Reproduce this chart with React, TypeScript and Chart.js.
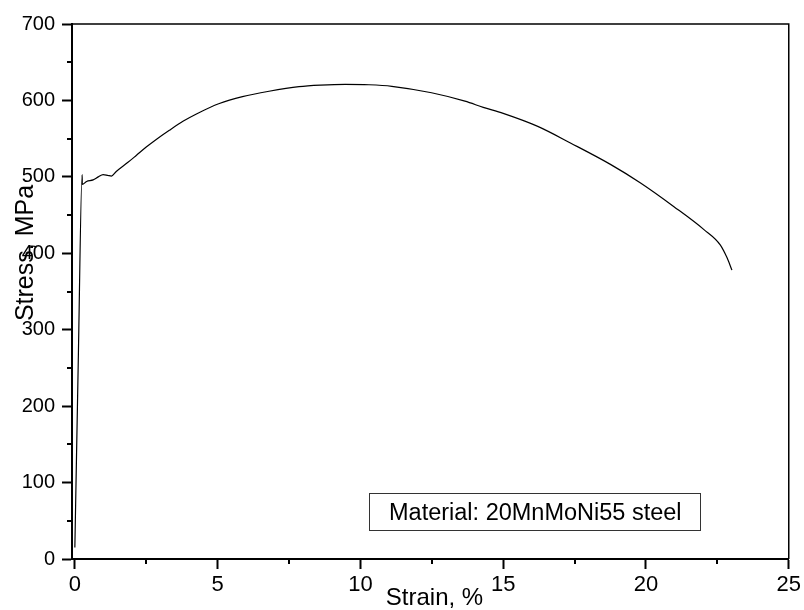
import React, { useEffect, useRef } from "react";
import { Chart, registerables } from "chart.js";

Chart.register(...registerables);

const strain = [0.0, 0.12, 0.255, 0.26, 0.41, 0.64, 0.82, 0.99, 1.15, 1.28, 1.45, 1.86, 2.15, 2.5, 2.85, 3.31, 3.8, 4.24, 5.06, 5.87, 6.8, 7.85, 8.6, 9.47, 10.3, 11.1, 12.49, 13.66, 14.3, 15.0, 16.21, 17.37, 18.77, 19.81, 20.98, 22.03, 22.6, 22.84, 23.01];
const stress = [15, 260, 503, 490, 494, 496, 500, 503, 502, 501, 507, 519, 528, 539, 549, 561, 573, 582, 596, 605, 612, 618, 620, 621, 620.5, 618.5, 610, 599, 591, 583, 566, 544, 516, 492, 461, 431, 411, 394, 378];

const xMajorTicks = [0, 5, 10, 15, 20, 25];
const xMinorTicks = [2.5, 7.5, 12.5, 17.5, 22.5];
const yMajorTicks = [0, 100, 200, 300, 400, 500, 600, 700];
const yMinorTicks = [50, 150, 250, 350, 450, 550, 650];

const xTitle = "Strain, %";
const yTitle = "Stress, MPa";
const noteText = "Material: 20MnMoNi55 steel";

const FONT = "'Liberation Sans', Arial, Helvetica, sans-serif";

const framePlugin = {
  id: "frame",
  afterDraw(chart: any) {
    const { ctx, chartArea } = chart;
    const xs = chart.scales.x;
    const ys = chart.scales.y;
    ctx.save();
    ctx.strokeStyle = "#000";
    ctx.lineWidth = 1.5;
    ctx.beginPath();
    ctx.moveTo(chartArea.left, chartArea.top);
    ctx.lineTo(chartArea.right, chartArea.top);
    ctx.lineTo(chartArea.right, chartArea.bottom);
    ctx.stroke();
    ctx.lineWidth = 2;
    ctx.beginPath();
    xMinorTicks.forEach((v) => {
      const px = Math.round(xs.getPixelForValue(v));
      ctx.moveTo(px, chartArea.bottom);
      ctx.lineTo(px, chartArea.bottom + 5);
    });
    yMinorTicks.forEach((v) => {
      const py = Math.round(ys.getPixelForValue(v));
      ctx.moveTo(chartArea.left, py);
      ctx.lineTo(chartArea.left - 5, py);
    });
    ctx.stroke();
    ctx.fillStyle = "#000";
    ctx.font = `24px ${FONT}`;
    ctx.textAlign = "center";
    ctx.textBaseline = "alphabetic";
    ctx.fillText(xTitle, 434.5, 605);
    ctx.save();
    ctx.translate(33, 253);
    ctx.rotate(-Math.PI / 2);
    ctx.font = `25px ${FONT}`;
    ctx.fillText(yTitle, 0, 0);
    ctx.restore();
    ctx.lineWidth = 1;
    ctx.strokeStyle = "#333";
    ctx.strokeRect(369.5, 493.5, 331, 37);
    ctx.font = `23.5px ${FONT}`;
    ctx.textAlign = "left";
    ctx.fillText(noteText, 389, 520);
    ctx.restore();
  },
};

export default function App() {
  const ref = useRef<HTMLCanvasElement | null>(null);
  useEffect(() => {
    if (!ref.current) return;
    const data = strain.map((x, i) => ({ x, y: stress[i] }));
    const chart = new Chart(ref.current, {
      type: "line",
      data: {
        datasets: [
          {
            data,
            borderColor: "#000",
            borderWidth: 1.2,
            pointRadius: 0,
            cubicInterpolationMode: "monotone",
            fill: false,
          },
        ],
      },
      options: {
        responsive: false,
        devicePixelRatio: 1,
        animation: false,
        layout: { padding: { left: 0, top: 24, right: 12, bottom: 0 } },
        plugins: { legend: { display: false }, tooltip: { enabled: false }, title: { display: false } },
        scales: {
          x: {
            type: "linear",
            min: -0.1,
            max: 25,
            afterBuildTicks: (s: any) => {
              s.ticks = xMajorTicks.map((v) => ({ value: v }));
            },
            afterFit: (s: any) => {
              s.height = 51;
            },
            grid: { display: true, drawOnChartArea: false, drawTicks: true, tickLength: 10, tickWidth: 2, tickColor: "#000" },
            border: { display: true, color: "#000", width: 2 },
            ticks: { color: "#000", font: { size: 22, family: FONT }, padding: 3, maxRotation: 0 },
          },
          y: {
            type: "linear",
            min: 0,
            max: 700,
            afterBuildTicks: (s: any) => {
              s.ticks = yMajorTicks.map((v) => ({ value: v }));
            },
            afterFit: (s: any) => {
              s.width = 72;
            },
            grid: { display: true, drawOnChartArea: false, drawTicks: true, tickLength: 10, tickWidth: 2, tickColor: "#000" },
            border: { display: true, color: "#000", width: 2 },
            ticks: { color: "#000", font: { size: 20, family: FONT }, padding: 7 },
          },
        },
      },
      plugins: [framePlugin],
    });
    return () => chart.destroy();
  }, []);
  return (
    <div style={{ position: "fixed", left: 0, top: 0, width: 804, height: 610, background: "#fff" }}>
      <canvas ref={ref} width={804} height={610} />
    </div>
  );
}
